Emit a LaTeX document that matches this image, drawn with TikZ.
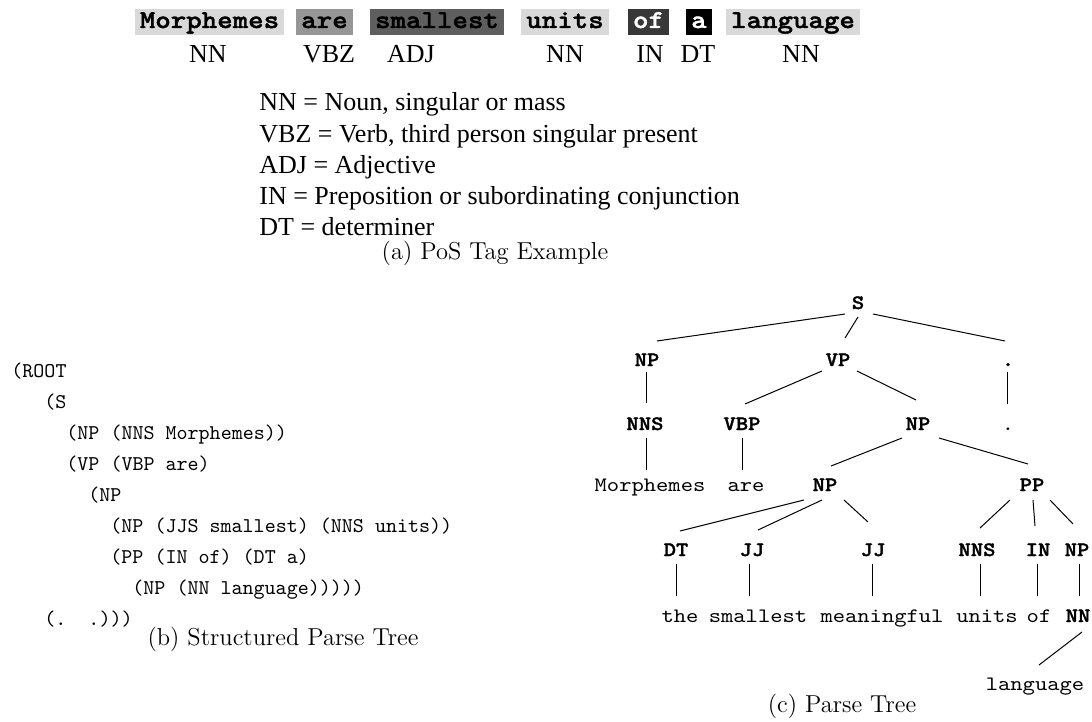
\documentclass[tikz,border=0pt]{standalone}
\usepackage{fontspec}
\newfontfamily\cour{Latin Modern Mono}[FakeStretch=1.143]
\newfontfamily\courb{lmmonolt10-bold.otf}[FakeStretch=1.143,FakeBold=1.6]
\newfontfamily\tnr{Liberation Serif}
\usetikzlibrary{calc}
\definecolor{lgrey}{HTML}{D9D9D9}
\definecolor{mgrey}{HTML}{969696}
\definecolor{dgrey}{HTML}{5E5E5E}
\definecolor{vdgrey}{HTML}{383838}
\begin{document}
\begin{tikzpicture}[x=0.5pt,y=-0.5pt,
  wbox/.style={font=\courb\fontsize{12.9}{15}\selectfont, inner xsep=2.5pt, inner ysep=0pt, text height=9.5pt, text depth=3.5pt, anchor=base},
  tag/.style={font=\tnr\fontsize{13}{15}\selectfont, inner sep=0pt, anchor=base},
  legend/.style={font=\tnr\fontsize{13}{15}\selectfont, inner sep=0pt, anchor=base west},
  capt/.style={font=\fontsize{12.25}{14}\selectfont, inner sep=0pt, anchor=base},
  code/.style={font=\ttfamily\fontsize{10.5}{12}\selectfont, inner sep=0pt, anchor=base west},
  tlab/.style={font=\courb\fontsize{10.25}{12}\selectfont, inner sep=0pt, anchor=base},
  tword/.style={font=\cour\fontsize{10.25}{12}\selectfont, inner sep=0pt, anchor=base},
  tedge/.style={draw=black, line width=0.5pt}]
\useasboundingbox (0,0) rectangle (1092,722);
% ---------- (a) PoS tags ----------
\node[wbox, fill=lgrey] (w1) at (209.5,28) {Morphemes};
\node[wbox, fill=mgrey] (w2) at (324.5,28) {are};
\node[wbox, fill=dgrey] (w3) at (437,28) {smallest};
\node[wbox, fill=lgrey] (w4) at (565,28) {units};
\node[wbox, fill=vdgrey, text=white] (w5) at (648.5,28) {of};
\node[wbox, fill=black, text=white] (w6) at (699,28) {a};
\node[wbox, fill=lgrey] (w7) at (793,28) {language};
\node[tag] (t1) at (208,63) {NN};
\node[tag] (t2) at (329,63) {VBZ};
\node[tag] (t3) at (411,63) {ADJ};
\node[tag] (t4) at (565,63) {NN};
\node[tag] (t5) at (650,63) {IN};
\node[tag] (t6) at (698,63) {DT};
\node[tag] (t7) at (801,63) {NN};
\node[legend] (l1) at (259,111) {NN = Noun, singular or mass};
\node[legend] (l2) at (259,142) {VBZ = Verb, third person singular present};
\node[legend] (l3) at (259,173) {ADJ = Adjective};
\node[legend] (l4) at (259,204) {IN = Preposition or subordinating conjunction};
\node[legend] (l5) at (259,235) {DT = determiner};
\node[capt] (ca) at (495,259) {(a) PoS Tag Example};
% ---------- (b) structured parse tree ----------
\node[code] (b1) at (11,377) {(ROOT};
\node[code] (b2) at (44,408) {(S};
\node[code] (b3) at (66,439) {(NP (NNS Morphemes))};
\node[code] (b4) at (66,470) {(VP (VBP are)};
\node[code] (b5) at (88,501) {(NP};
\node[code] (b6) at (110,532) {(NP (JJS smallest) (NNS units))};
\node[code] (b7) at (110,563) {(PP (IN of) (DT a)};
\node[code] (b8) at (132,594) {(NP (NN language)))))};
\node[code] (b9) at (44,625) {(.\ \ .)))};
\node[capt] (cb) at (283,645) {(b) Structured Parse Tree};
% ---------- (c) parse tree ----------
\node[tlab] (S) at (858,309) {S};
\node[tlab] (NPa) at (647,366) {NP};
\node[tlab] (VP) at (838,366) {VP};
\node[tlab] (DOTa) at (1008,366) {.};
\node[tlab] (NNSa) at (645,430) {NNS};
\node[tlab] (VBP) at (742,430) {VBP};
\node[tlab] (NPb) at (918,430) {NP};
\node[tword] (DOTb) at (1008,430) {.};
\node[tword] (wMorph) at (650,491) {Morphemes};
\node[tword] (wAre) at (746,491) {are};
\node[tlab] (NPc) at (825,491) {NP};
\node[tlab] (PP) at (1032,491) {PP};
\node[tlab] (DT) at (676,556) {DT};
\node[tlab] (JJa) at (752,556) {JJ};
\node[tlab] (JJb) at (873,556) {JJ};
\node[tlab] (NNSb) at (977,556) {NNS};
\node[tlab] (IN) at (1038,556) {IN};
\node[tlab] (NPd) at (1077,556) {NP};
\node[tword] (wThe) at (680,622) {the};
\node[tword] (wSmallest) at (758,622) {smallest};
\node[tword] (wMeaningful) at (882,622) {meaningful};
\node[tword] (wUnits) at (987,622) {units};
\node[tword] (wOf) at (1039,622) {of};
\node[tlab] (NN) at (1078,622) {NN};
\node[tword] (wLanguage) at (1035,690) {language};
\node[capt] (cc) at (842,712) {(c) Parse Tree};
\path[tedge] ($(S.base)+(-13,5)$) -- ($(NPa.base)+(10,-25)$);
\path[tedge] ($(S.base)+(0,8)$) -- ($(VP.base)+(7,-28)$);
\path[tedge] ($(S.base)+(15,5)$) -- ($(DOTa.base)+(-3,-25)$);
\path[tedge] ($(NPa.base)+(-1,6)$) -- ($(NNSa.base)+(1,-27)$);
\path[tedge] ($(VP.base)+(-16,5)$) -- ($(VBP.base)+(3,-26)$);
\path[tedge] ($(VP.base)+(19,5)$) -- ($(NPb.base)+(-2,-30)$);
\path[tedge] ($(DOTa.base)+(-1,6)$) -- ($(DOTb.base)+(-1,-26)$);
\path[tedge] ($(NNSa.base)+(1,8)$) -- ($(wMorph.base)+(-4,-21)$);
\path[tedge] ($(VBP.base)+(0,8)$) -- ($(wAre.base)+(-4,-21)$);
\path[tedge] ($(NPb.base)+(-16,8)$) -- ($(NPc.base)+(6,-25)$);
\path[tedge] ($(NPb.base)+(21,8)$) -- ($(PP.base)+(-4,-27)$);
\path[tedge] ($(NPc.base)+(-21,9)$) -- ($(DT.base)+(4,-25)$);
\path[tedge] ($(NPc.base)+(-3,9)$) -- ($(JJa.base)+(6,-26)$);
\path[tedge] ($(NPc.base)+(19,9)$) -- ($(JJb.base)+(-5,-34)$);
\path[tedge] ($(PP.base)+(-22,9)$) -- ($(NNSb.base)+(3,-28)$);
\path[tedge] ($(PP.base)+(1,9)$) -- ($(IN.base)+(-3,-30)$);
\path[tedge] ($(PP.base)+(18,9)$) -- ($(NPd.base)+(-4,-32)$);
\path[tedge] ($(DT.base)+(0,8)$) -- ($(wThe.base)+(-4,-26)$);
\path[tedge] ($(JJa.base)+(-3,8)$) -- ($(wSmallest.base)+(-9,-26)$);
\path[tedge] ($(JJb.base)+(-1,8)$) -- ($(wMeaningful.base)+(-10,-26)$);
\path[tedge] ($(NNSb.base)+(3,8)$) -- ($(wUnits.base)+(-7,-26)$);
\path[tedge] ($(IN.base)+(-1,8)$) -- ($(wOf.base)+(-2,-26)$);
\path[tedge] ($(NPd.base)+(2,8)$) -- ($(NN.base)+(1,-26)$);
\path[tedge] ($(NN.base)+(4,10)$) -- ($(wLanguage.base)+(4,-25)$);
\end{tikzpicture}
\end{document}
